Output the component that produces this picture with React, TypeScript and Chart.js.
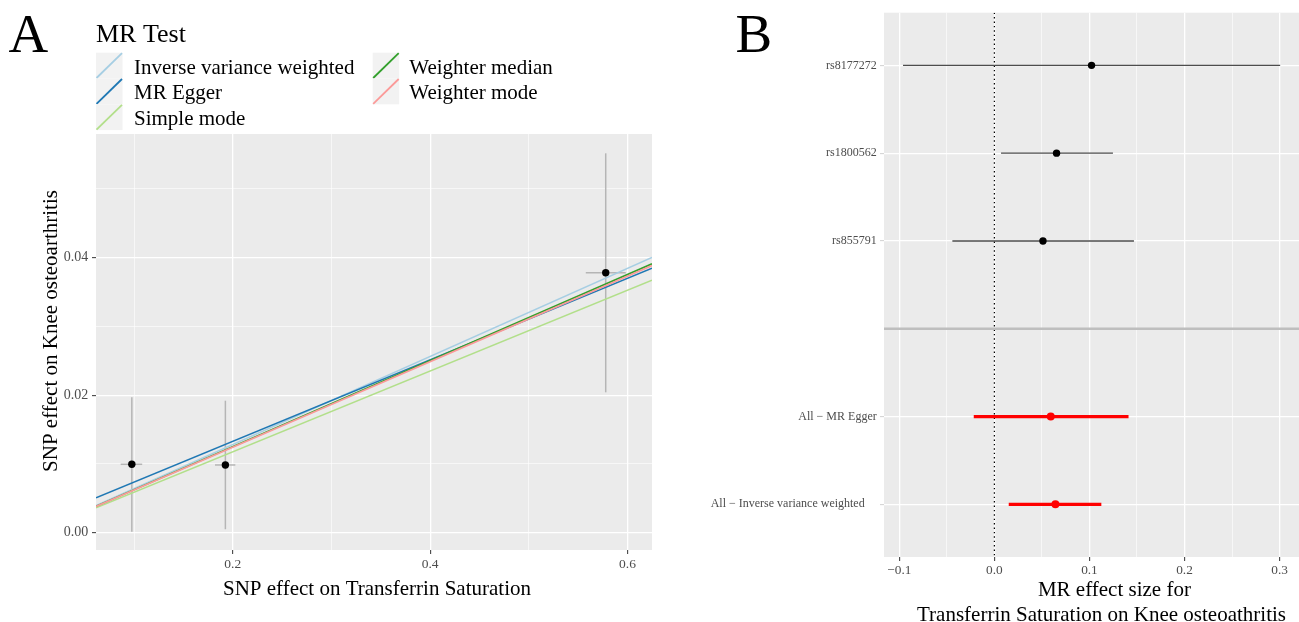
import React, { useEffect, useRef } from "react";
import Chart from "chart.js/auto";

const FONT = '"Liberation Serif", "Times New Roman", Times, serif';

// ---------- Panel A : scatter of SNP effects ----------
const snpExposure = [0.0977, 0.1925, 0.5779];
const snpExposureLow = [0.0864, 0.182, 0.5577];
const snpExposureHigh = [0.1082, 0.2026, 0.5982];
const snpOutcome = [0.00995, 0.00985, 0.03782];
const snpOutcomeLow = [0.00015, 0.0005, 0.02042];
const snpOutcomeHigh = [0.0197, 0.0192, 0.05519];

const methodNames = [
  "Inverse variance weighted",
  "MR Egger",
  "Simple mode",
  "Weighter median",
  "Weighter mode",
];
const methodSlopes = [0.0641, 0.0593, 0.0588, 0.0626, 0.0622];
const methodIntercepts = [0, 0.00143, 0, 0, 0];
const methodColors = ["#A6CEE3", "#1F78B4", "#B2DF8A", "#33A02C", "#FB9A99"];

const xTicksA = [0.1, 0.2, 0.3, 0.4, 0.5, 0.6];
const xTickLabelsA = ["", "0.2", "", "0.4", "", "0.6"];
const yTicksA = [0, 0.01, 0.02, 0.03, 0.04, 0.05];
const yTickLabelsA = ["0.00", "", "0.02", "", "0.04", ""];
const xRangeA = [0.0614, 0.6248];
const yRangeA = [-0.00252, 0.058];

// ---------- Panel B : forest plot ----------
const snpLabels = ["rs8177272", "rs1800562", "rs855791"];
const snpBeta = [0.1022, 0.0654, 0.0511];
const snpLow = [-0.0961, 0.007, -0.0442];
const snpHigh = [0.3006, 0.1247, 0.1468];
const summaryLabels = ["All − MR Egger", "All − Inverse variance weighted    "];
const summaryBeta = [0.0593, 0.0642];
const summaryLow = [-0.0217, 0.0151];
const summaryHigh = [0.1411, 0.1125];

const xTicksB = [-0.1, -0.05, 0, 0.05, 0.1, 0.15, 0.2, 0.25, 0.3];
const xTickLabelsB = ["−0.1", "", "0.0", "", "0.1", "", "0.2", "", "0.3"];
const xRangeB = [-0.1161, 0.3204];

const rowLabelsB = [...snpLabels, "", ...summaryLabels];
const yTicksB = rowLabelsB.map((_, i) => i);
const separatorRow = snpLabels.length;

type ScaleOpts = {
  min: number;
  max: number;
  ticks: number[];
  labels: string[];
  fontSize: number;
  padding: number;
  width?: number;
  height?: number;
  reverse?: boolean;
  allMajor?: boolean;
  tickColor?: string;
};

function makeScale(o: ScaleOpts) {
  const isMajor = (i: number) => o.allMajor || (o.labels[i] ?? "") !== "";
  return {
    type: "linear",
    min: o.min,
    max: o.max,
    reverse: !!o.reverse,
    afterBuildTicks: (s: any) => {
      s.ticks = o.ticks.map((v) => ({ value: v }));
    },
    afterFit: (s: any) => {
      if (o.width != null) s.width = o.width;
      if (o.height != null) s.height = o.height;
      s.paddingLeft = 0;
      s.paddingRight = 0;
      s.paddingTop = 0;
      s.paddingBottom = 0;
    },
    ticks: {
      autoSkip: false,
      maxRotation: 0,
      minRotation: 0,
      padding: o.padding,
      color: "#4D4D4D",
      font: { family: FONT, size: o.fontSize },
      callback: (_v: any, i: number) => o.labels[i] ?? "",
    },
    grid: {
      color: "#FFFFFF",
      lineWidth: (c: any) => (isMajor(c.index) ? 1.3 : 0.6),
      drawTicks: true,
      tickLength: 4,
      tickWidth: 1,
      tickColor: (c: any) =>
        (o.labels[c.index] ?? "") !== "" ? o.tickColor || "#333333" : "rgba(0,0,0,0)",
    },
    border: { display: false },
    title: { display: false },
  };
}

const panelBackground = {
  id: "panelBackground",
  beforeDraw(chart: any) {
    const { ctx, chartArea: a } = chart;
    ctx.save();
    ctx.fillStyle = "#FFFFFF";
    ctx.fillRect(0, 0, chart.width, chart.height);
    ctx.fillStyle = "#EBEBEB";
    ctx.fillRect(a.left, a.top, a.right - a.left, a.bottom - a.top);
    ctx.restore();
  },
};

const panelAText = {
  id: "panelAText",
  afterDraw(chart: any) {
    const { ctx, chartArea: a } = chart;
    ctx.save();
    ctx.fillStyle = "#000000";
    ctx.textAlign = "left";
    ctx.textBaseline = "alphabetic";
    ctx.font = `55px ${FONT}`;
    ctx.fillText("A", 8.5, 52);

    // legend
    ctx.font = `26px ${FONT}`;
    ctx.fillText("MR Test", a.left, 42);
    const keyW = 26.5;
    const keyH = 25.8;
    const top = 52.7;
    const cols = [
      { x: a.left, tx: a.left + 38 },
      { x: 372.7, tx: 409.3 },
    ];
    methodNames.forEach((name, i) => {
      const col = cols[Math.floor(i / 3)];
      const ky = top + (i % 3) * keyH;
      ctx.fillStyle = "#F2F2F2";
      ctx.fillRect(col.x, ky, keyW, keyH);
      ctx.strokeStyle = methodColors[i];
      ctx.lineWidth = 1.8;
      ctx.beginPath();
      ctx.moveTo(col.x + 0.5, ky + keyH - 0.5);
      ctx.lineTo(col.x + keyW - 0.5, ky + 0.5);
      ctx.stroke();
      ctx.fillStyle = "#000000";
      ctx.font = `21px ${FONT}`;
      ctx.fillText(name, col.tx, ky + keyH / 2 + 8);
    });

    // axis titles
    ctx.font = `21px ${FONT}`;
    ctx.textAlign = "center";
    ctx.fillText("SNP effect on Transferrin Saturation", 377, 595);
    ctx.translate(57, 331);
    ctx.rotate(-Math.PI / 2);
    ctx.fillText("SNP effect on Knee osteoarthritis", 0, 0);
    ctx.restore();
  },
};

const panelBText = {
  id: "panelBText",
  afterDraw(chart: any) {
    const { ctx } = chart;
    ctx.save();
    ctx.fillStyle = "#000000";
    ctx.textAlign = "left";
    ctx.textBaseline = "alphabetic";
    ctx.font = `55px ${FONT}`;
    ctx.fillText("B", 75.5, 52);
    ctx.font = `21px ${FONT}`;
    ctx.textAlign = "center";
    ctx.fillText("MR effect size for", 454.4, 596);
    ctx.fillText("Transferrin Saturation on Knee osteoathritis", 441.5, 620.5);
    ctx.restore();
  },
};

function segment(x1: number, y1: number, x2: number, y2: number, color: string, width: number, order: number, extra: any = {}) {
  return {
    type: "scatter",
    data: [
      { x: x1, y: y1 },
      { x: x2, y: y2 },
    ],
    showLine: true,
    borderColor: color,
    backgroundColor: color,
    borderWidth: width,
    pointRadius: 0,
    order,
    ...extra,
  };
}

function buildConfigA(): any {
  const datasets: any[] = [];
  snpExposure.forEach((x, i) => {
    datasets.push(segment(x, snpOutcomeLow[i], x, snpOutcomeHigh[i], "#B5B5B5", 1.5, 30));
    datasets.push(
      segment(snpExposureLow[i], snpOutcome[i], snpExposureHigh[i], snpOutcome[i], "#B5B5B5", 1.5, 30)
    );
  });
  datasets.push({
    type: "scatter",
    data: snpExposure.map((x, i) => ({ x, y: snpOutcome[i] })),
    pointRadius: 3.7,
    pointBorderWidth: 0,
    backgroundColor: "#000000",
    borderColor: "#000000",
    order: 20,
  });
  methodNames.forEach((name, i) => {
    const x1 = xRangeA[0];
    const x2 = xRangeA[1];
    datasets.push({
      ...segment(
        x1,
        methodIntercepts[i] + methodSlopes[i] * x1,
        x2,
        methodIntercepts[i] + methodSlopes[i] * x2,
        methodColors[i],
        1.6,
        10 - i
      ),
      label: name,
    });
  });

  return {
    type: "scatter",
    data: { datasets },
    plugins: [panelBackground, panelAText],
    options: {
      animation: false,
      responsive: false,
      devicePixelRatio: 1,
      events: [],
      layout: { autoPadding: false, padding: { top: 134, right: 8, left: 0, bottom: 0 } },
      plugins: { legend: { display: false }, tooltip: { enabled: false }, title: { display: false } },
      scales: {
        x: makeScale({
          min: xRangeA[0],
          max: xRangeA[1],
          ticks: xTicksA,
          labels: xTickLabelsA,
          fontSize: 13.5,
          padding: 2,
          height: 72,
        }),
        y: makeScale({
          min: yRangeA[0],
          max: yRangeA[1],
          ticks: yTicksA,
          labels: yTickLabelsA,
          fontSize: 14,
          padding: 3.7,
          width: 96,
        }),
      },
    },
  };
}

function buildConfigB(): any {
  const datasets: any[] = [];
  datasets.push(
    segment(0, -0.6, 0, rowLabelsB.length - 1 + 0.6, "#000000", 1.2, 40, { borderDash: [1.4, 3] })
  );
  snpBeta.forEach((_, i) => {
    datasets.push(segment(snpLow[i], i, snpHigh[i], i, "#4D4D4D", 1.4, 30));
  });
  summaryBeta.forEach((_, j) => {
    const row = separatorRow + 1 + j;
    datasets.push(segment(summaryLow[j], row, summaryHigh[j], row, "#FF0000", 3.3, 30));
  });
  datasets.push({
    type: "scatter",
    data: snpBeta.map((b, i) => ({ x: b, y: i })),
    pointRadius: 3.7,
    pointBorderWidth: 0,
    backgroundColor: "#000000",
    order: 20,
  });
  datasets.push({
    type: "scatter",
    data: summaryBeta.map((b, j) => ({ x: b, y: separatorRow + 1 + j })),
    pointRadius: 4,
    pointBorderWidth: 0,
    backgroundColor: "#FF0000",
    order: 20,
  });
  datasets.push(segment(xRangeB[0], separatorRow, xRangeB[1], separatorRow, "#BEBEBE", 2.5, 10));

  return {
    type: "scatter",
    data: { datasets },
    plugins: [panelBackground, panelBText],
    options: {
      animation: false,
      responsive: false,
      devicePixelRatio: 1,
      events: [],
      layout: { autoPadding: false, padding: { top: 12.7, right: 0, left: 0, bottom: 0 } },
      plugins: { legend: { display: false }, tooltip: { enabled: false }, title: { display: false } },
      scales: {
        x: makeScale({
          min: xRangeB[0],
          max: xRangeB[1],
          ticks: xTicksB,
          labels: xTickLabelsB,
          fontSize: 13.3,
          padding: 2,
          height: 65,
        }),
        y: makeScale({
          min: -0.6,
          max: rowLabelsB.length - 1 + 0.6,
          ticks: yTicksB,
          labels: rowLabelsB,
          fontSize: 12,
          padding: 3.3,
          width: 224,
          reverse: true,
          allMajor: true,
          tickColor: "#D0D0D0",
        }),
      },
    },
  };
}

export default function App() {
  const refA = useRef<HTMLCanvasElement>(null);
  const refB = useRef<HTMLCanvasElement>(null);

  useEffect(() => {
    if (!refA.current || !refB.current) return;
    const a = new Chart(refA.current, buildConfigA());
    const b = new Chart(refB.current, buildConfigB());
    return () => {
      a.destroy();
      b.destroy();
    };
  }, []);

  return (
    <div
      style={{
        position: "fixed",
        left: 0,
        top: 0,
        width: 1299,
        height: 622,
        background: "#FFFFFF",
        overflow: "hidden",
      }}
    >
      <canvas ref={refA} width={660} height={622} style={{ position: "absolute", left: 0, top: 0 }} />
      <canvas ref={refB} width={639} height={622} style={{ position: "absolute", left: 660, top: 0 }} />
    </div>
  );
}
